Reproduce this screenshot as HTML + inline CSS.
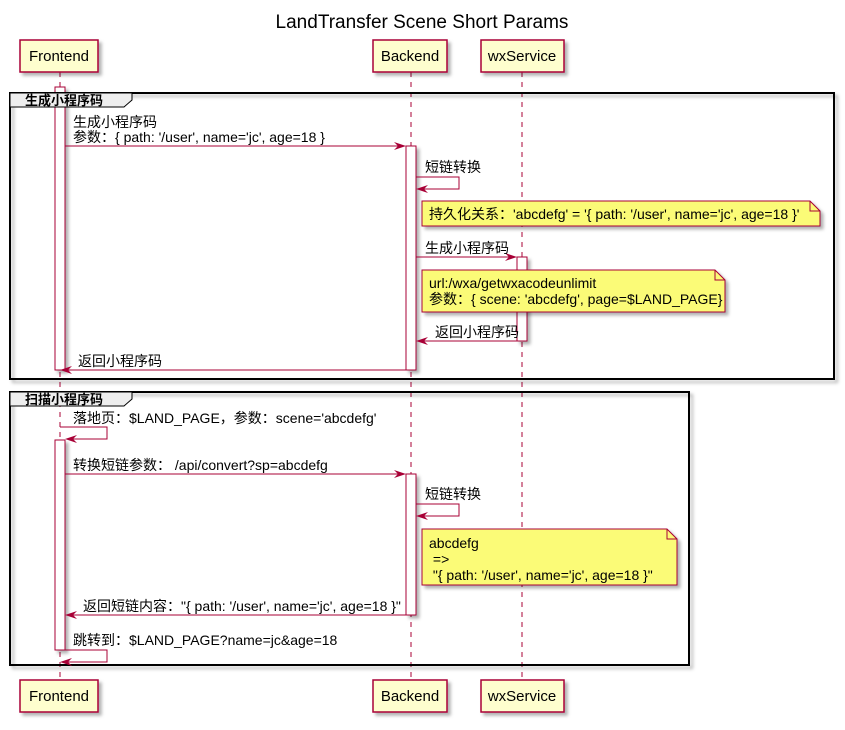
<!DOCTYPE html>
<html><head><meta charset="utf-8"><style>
body{margin:0;background:#fff}
svg text{font-family:"Liberation Sans","Noto Sans CJK SC",sans-serif;font-size:14px;fill:#000}
</style></head><body>
<svg width="845" height="725" viewBox="0 0 845 725" xmlns="http://www.w3.org/2000/svg">
<defs>
<filter id="sh" x="-10%" y="-10%" width="130%" height="140%"><feDropShadow dx="3" dy="3" stdDeviation="1.5" flood-color="#000" flood-opacity="0.3"/></filter>
</defs>
<text x="422" y="28" text-anchor="middle" style="font-size:19px">LandTransfer Scene Short Params</text>
<g stroke="#A80036" stroke-dasharray="5,5" stroke-width="1">
<line x1="60" y1="72" x2="60" y2="680"/><line x1="411" y1="72" x2="411" y2="680"/><line x1="522" y1="72" x2="522" y2="680"/>
</g>
<g fill="#FEFECE" stroke="#A80036" stroke-width="1.5" filter="url(#sh)">
<rect x="20" y="40" width="78" height="32"/><rect x="373" y="40" width="74" height="32"/><rect x="481" y="40" width="83" height="32"/>
<rect x="20" y="680" width="78" height="32"/><rect x="373" y="680" width="74" height="32"/><rect x="481" y="680" width="83" height="32"/>
</g>
<g text-anchor="middle">
<text x="59" y="61" style="font-size:15px">Frontend</text><text x="410" y="61" style="font-size:15px">Backend</text><text x="522" y="61" style="font-size:15px">wxService</text>
<text x="59" y="701" style="font-size:15px">Frontend</text><text x="410" y="701" style="font-size:15px">Backend</text><text x="522" y="701" style="font-size:15px">wxService</text>
</g>
<g fill="#fff" stroke="#A80036" stroke-width="1" filter="url(#sh)">
<rect x="55" y="87" width="10" height="283"/>
<rect x="406" y="146" width="10" height="224"/>
<rect x="517" y="257" width="10" height="84"/>
<rect x="55" y="440" width="10" height="210"/>
<rect x="406" y="474" width="10" height="141"/>
</g>
<rect x="10" y="93" width="824" height="286" fill="none" stroke="#000" stroke-width="2" filter="url(#sh)"/>
<path d="M10 93 H132 V100 L124 107 H10 Z" fill="#EEEEEE" stroke="#000" stroke-width="1"/>
<text x="25" y="105" style="font-weight:bold;font-size:13px">生成小程序码</text>
<rect x="10" y="392" width="679" height="273" fill="none" stroke="#000" stroke-width="2" filter="url(#sh)"/>
<path d="M10 392 H132 V399 L124 406 H10 Z" fill="#EEEEEE" stroke="#000" stroke-width="1"/>
<text x="25" y="404" style="font-weight:bold;font-size:13px">扫描小程序码</text>
<g fill="#FBFB77" stroke="#A80036" stroke-width="1" filter="url(#sh)">
<path d="M422 201 H810 L820 211 V226 H422 Z"/>
<path d="M422 270 H715 L725 280 V312 H422 Z"/>
<path d="M422 529 H667 L677 539 V585 H422 Z"/>
</g>
<g fill="none" stroke="#A80036" stroke-width="1">
<path d="M810 201 V211 H820"/><path d="M715 270 V280 H725"/><path d="M667 529 V539 H677"/>
</g>
<text x="429" y="219">持久化关系：'abcdefg' = '{ path: '/user', name='jc', age=18 }'</text>
<text x="429" y="288">url:/wxa/getwxacodeunlimit</text>
<text x="429" y="304">参数：{ scene: 'abcdefg', page=$LAND_PAGE}</text>
<text x="429" y="548">abcdefg</text>
<text x="429" y="564">&#160;=&gt;</text>
<text x="429" y="580">&#160;"{ path: '/user', name='jc', age=18 }"</text>
<g stroke="#A80036" stroke-width="1" fill="none">
<line x1="65" y1="146" x2="404" y2="146"/>
<path d="M416 177 H459 V189 H418"/>
<line x1="416" y1="257" x2="515" y2="257"/>
<line x1="517" y1="341" x2="418" y2="341"/>
<line x1="406" y1="370" x2="62" y2="370"/>
<path d="M60 427 H107 V439 H67"/>
<line x1="65" y1="474" x2="404" y2="474"/>
<path d="M416 504 H459 V516 H418"/>
<line x1="406" y1="615" x2="67" y2="615"/>
<path d="M65 650 H107 V662 H62"/>
</g>
<g fill="#A80036">
<path d="M406 146 L394 142 L398 146 L394 150 Z"/>
<path d="M416 189 L428 185 L424 189 L428 193 Z"/>
<path d="M517 257 L505 253 L509 257 L505 261 Z"/>
<path d="M416 341 L428 337 L424 341 L428 345 Z"/>
<path d="M60 370 L72 366 L68 370 L72 374 Z"/>
<path d="M65 439 L77 435 L73 439 L77 443 Z"/>
<path d="M406 474 L394 470 L398 474 L394 478 Z"/>
<path d="M416 516 L428 512 L424 516 L428 520 Z"/>
<path d="M65 615 L77 611 L73 615 L77 619 Z"/>
<path d="M60 662 L72 658 L68 662 L72 666 Z"/>
</g>
<text x="73" y="127">生成小程序码</text>
<text x="73" y="142">参数：{ path: '/user', name='jc', age=18 }</text>
<text x="425" y="172">短链转换</text>
<text x="425" y="253">生成小程序码</text>
<text x="435" y="337">返回小程序码</text>
<text x="78" y="366">返回小程序码</text>
<text x="73" y="423">落地页：$LAND_PAGE，参数：scene='abcdefg'</text>
<text x="73" y="470">转换短链参数：  /api/convert?sp=abcdefg</text>
<text x="425" y="499">短链转换</text>
<text x="83" y="611">返回短链内容："{ path: '/user', name='jc', age=18 }"</text>
<text x="73" y="645">跳转到：$LAND_PAGE?name=jc&amp;age=18</text>
</svg>
</body></html>
